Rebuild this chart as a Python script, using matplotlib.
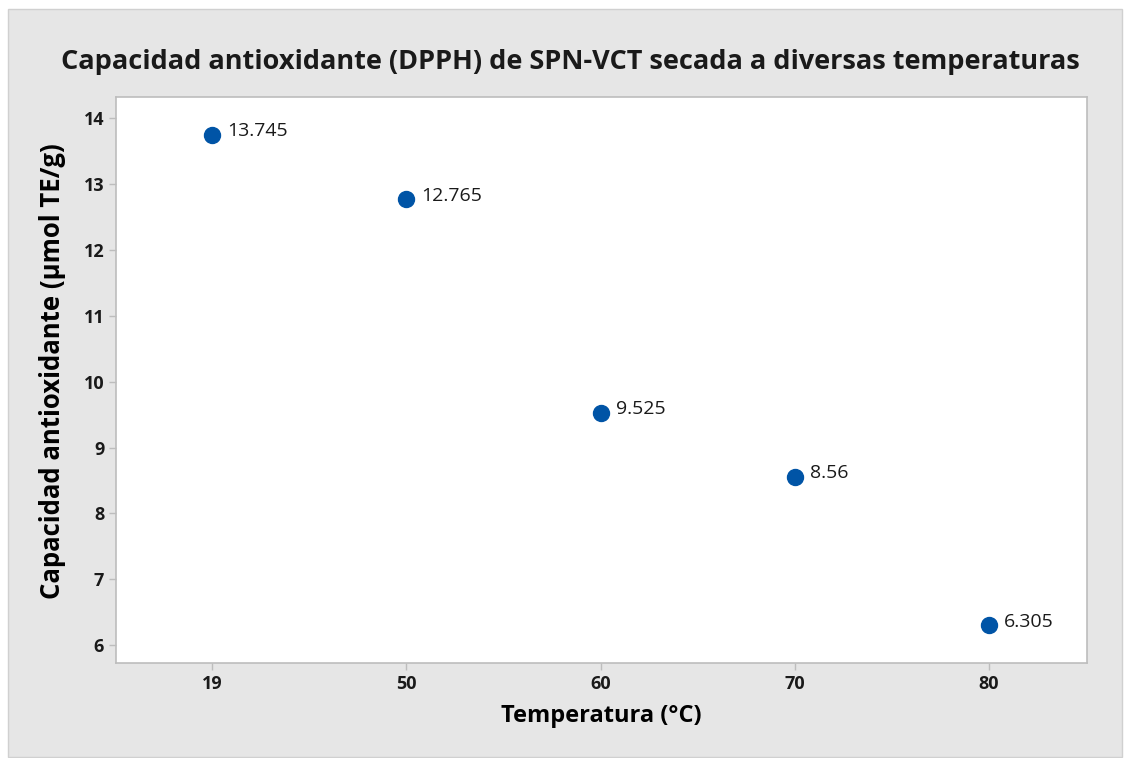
import matplotlib.pyplot as plt
from matplotlib.patches import Rectangle

# Data
temperaturas = ["19", "50", "60", "70", "80"]
capacidad = [13.745, 12.765, 9.525, 8.56, 6.305]
etiquetas = ["13.745", "12.765", "9.525", "8.56", "6.305"]

plt.rcParams['font.family'] = ['Open Sans', 'DejaVu Sans']

fig = plt.figure(figsize=(11.3, 7.58), dpi=100)
fig.patch.set_facecolor("white")
W, H = 1130, 758
# grey panel behind the chart
fig.patches.append(Rectangle((8 / W, 1 / H), 1114 / W, 748 / H, transform=fig.transFigure,
                             facecolor="#e6e6e6", edgecolor="#d0d0d0", linewidth=1, zorder=-5))

ax = fig.add_axes([116 / W, 1 - 663 / H, (1087 - 116) / W, (663 - 97) / H])
ax.set_zorder(2)
ax.set_facecolor("white")

x = list(range(len(temperaturas)))
ax.plot(x, capacidad, "o", color="#0054a6", markersize=11.5, zorder=3)
for xi, yi, lab in zip(x, capacidad, etiquetas):
    ax.annotate(lab, (xi, yi), xytext=(11, 2.5), textcoords="offset points",
                ha="left", va="center", fontsize=14, color="#1a1a1a")

ax.set_xlim(-0.495, 4.505)
ax.set_ylim(5.73, 14.32)
ax.set_xticks(x)
ax.set_xticklabels(temperaturas, fontweight="bold")
ax.set_yticks(range(6, 15))
ax.set_yticklabels([str(v) for v in range(6, 15)], fontweight="bold")

for s in ax.spines.values():
    s.set_color("#bdbdbd")
    s.set_linewidth(1.2)
ax.tick_params(colors="#bdbdbd", labelcolor="#1a1a1a", length=5, width=1, labelsize=13)

ax.set_xlabel("Temperatura (°C)", fontsize=17, fontweight="bold", labelpad=8)
ax.set_ylabel("Capacidad antioxidante (µmol TE/g)", fontsize=18.5, fontweight="bold", labelpad=8)
ax.yaxis.set_label_coords(-0.052, 0.515)
fig.text(0.505, 1 - 62 / H, "Capacidad antioxidante (DPPH) de SPN-VCT secada a diversas temperaturas",
         ha="center", va="center", fontsize=19.5, fontweight="bold", color="#1a1a1a", zorder=3)

fig.savefig("out.png", dpi=100)
